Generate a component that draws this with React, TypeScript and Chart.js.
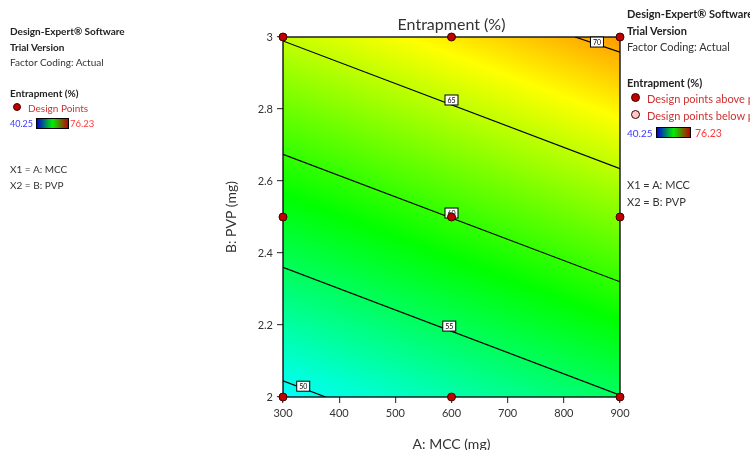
import React, { useEffect, useRef } from 'react';
import { Chart, registerables } from 'chart.js';

Chart.register(...registerables);

// ---- data ----
const mccTicks = [300, 400, 500, 600, 700, 800, 900];
const pvpTicks = [2, 2.2, 2.4, 2.6, 2.8, 3];
const designMCC = [300, 600, 900, 300, 600, 900, 300, 600, 900];
const designPVP = [2, 2, 2, 2.5, 2.5, 2.5, 3, 3, 3];
const cornerMCC = [300, 900];
const cornerPVP = [2, 3];
const entrapmentAtLowPVP = [49.3, 54.9];
const entrapmentAtHighPVP = [65.2, 70.8];
const colorScaleRange = [40.25, 76.23];
const contourLevels = [50, 55, 60, 65, 70];
const contourMCC = [[300, 376], [300, 900], [300, 900], [300, 900], [820, 900]];
const contourPVP = [[2.045, 2.0], [2.36, 2.005], [2.674, 2.32], [2.989, 2.634], [3.0, 2.958]];
const labelMCC = [336, 596, 600, 600, 859];
const labelPVP = [2.03, 2.197, 2.511, 2.825, 2.986];

const FONT = 'Lato, "Noto Sans", sans-serif';

const stops: [number, number, number][] = [
  [0, 0, 255],
  [0, 255, 255],
  [0, 255, 0],
  [255, 255, 0],
  [255, 0, 0],
];

function colorFor(e: number): [number, number, number] {
  let t = (e - colorScaleRange[0]) / (colorScaleRange[1] - colorScaleRange[0]);
  t = Math.max(0, Math.min(1, t));
  const s = t * (stops.length - 1);
  const i = Math.min(stops.length - 2, Math.floor(s));
  const f = s - i;
  const a = stops[i], b = stops[i + 1];
  return [a[0] + (b[0] - a[0]) * f, a[1] + (b[1] - a[1]) * f, a[2] + (b[2] - a[2]) * f];
}

const surfacePlugin = {
  id: 'surface',
  beforeDatasetsDraw(chart: any) {
    const { ctx, chartArea: a, scales } = chart;
    const x = scales.x, y = scales.y;
    const left = Math.round(a.left), top = Math.round(a.top);
    const w = Math.round(a.right) - left, h = Math.round(a.bottom) - top;
    const img = ctx.createImageData(w, h);
    for (let j = 0; j < h; j++) {
      const pv = y.getValueForPixel(top + j + 0.5);
      const v = (pv - cornerPVP[0]) / (cornerPVP[1] - cornerPVP[0]);
      for (let i = 0; i < w; i++) {
        const mv = x.getValueForPixel(left + i + 0.5);
        const u = (mv - cornerMCC[0]) / (cornerMCC[1] - cornerMCC[0]);
        const lo = entrapmentAtLowPVP[0] + (entrapmentAtLowPVP[1] - entrapmentAtLowPVP[0]) * u;
        const hi = entrapmentAtHighPVP[0] + (entrapmentAtHighPVP[1] - entrapmentAtHighPVP[0]) * u;
        const e = lo + (hi - lo) * v;
        const c = colorFor(e);
        const k = (j * w + i) * 4;
        img.data[k] = c[0];
        img.data[k + 1] = c[1];
        img.data[k + 2] = c[2];
        img.data[k + 3] = 255;
      }
    }
    ctx.putImageData(img, left, top);
    ctx.save();
    ctx.strokeStyle = '#000';
    ctx.lineWidth = 1.3;
    ctx.strokeRect(left, top, w, h);
    ctx.restore();
  },
  afterDatasetDraw(chart: any, args: any) {
    if (args.index !== 1) return;
    const { ctx, scales } = chart;
    ctx.save();
    ctx.font = `7px ${FONT}`;
    ctx.textAlign = 'center';
    ctx.textBaseline = 'middle';
    contourLevels.forEach((lv, i) => {
      const px = scales.x.getPixelForValue(labelMCC[i]);
      const py = scales.y.getPixelForValue(labelPVP[i]);
      ctx.fillStyle = '#fff';
      ctx.fillRect(px - 6.5, py - 5, 13, 10);
      ctx.strokeStyle = '#000';
      ctx.lineWidth = 1;
      ctx.strokeRect(px - 6.5, py - 5, 13, 10);
      ctx.fillStyle = '#000';
      ctx.fillText(String(lv), px, py + 0.5);
    });
    ctx.restore();
  },
};

const Txt = ({ x, y, size, bold, color, children }: any) => (
  <div
    style={{
      position: 'absolute',
      left: x,
      top: y - 7,
      height: 14,
      lineHeight: '14px',
      fontSize: size,
      fontWeight: bold ? 700 : 400,
      color: color || '#222',
      fontFamily: FONT,
      whiteSpace: 'nowrap',
    }}
  >
    {children}
  </div>
);

const Dot = ({ x, y, r, fill }: any) => (
  <div
    style={{
      position: 'absolute',
      left: x - r,
      top: y - r,
      width: 2 * r,
      height: 2 * r,
      borderRadius: '50%',
      background: fill,
      border: '1px solid #400',
      boxSizing: 'border-box',
    }}
  />
);

const Bar = ({ x, y, w, h }: any) => (
  <div
    style={{
      position: 'absolute',
      left: x,
      top: y,
      width: w,
      height: h,
      border: '1px solid #000',
      boxSizing: 'border-box',
      background: 'linear-gradient(to right, #0000e0, #00f000, #c00000)',
    }}
  />
);

export default function App() {
  const ref = useRef<HTMLCanvasElement>(null);

  useEffect(() => {
    if (!ref.current) return;
    const pointsDs = {
      label: 'Design Points',
      data: designMCC.map((m, i) => ({ x: m, y: designPVP[i] })),
      pointRadius: 4,
      pointBackgroundColor: '#c00000',
      pointBorderColor: '#400000',
      pointBorderWidth: 1,
      showLine: false,
      clip: false,
    };
    const contourDs = contourLevels.map((lv, i) => ({
      label: String(lv),
      data: contourMCC[i].map((m, k) => ({ x: m, y: contourPVP[i][k] })),
      showLine: true,
      borderColor: '#000',
      borderWidth: 1.2,
      pointRadius: 0,
      fill: false,
    }));
    const chart = new Chart(ref.current, {
      type: 'scatter',
      data: { datasets: [pointsDs, ...contourDs] as any },
      options: {
        animation: false,
        responsive: false,
        devicePixelRatio: 1,
        layout: { padding: { left: 222, right: 130, top: 0, bottom: 0 } },
        plugins: {
          legend: { display: false },
          tooltip: { enabled: false },
          title: {
            display: true,
            fullSize: false,
            text: 'Entrapment (%)',
            color: '#333',
            font: { family: FONT, size: 16, weight: 'normal' },
            padding: { top: 15, bottom: 2.8 },
          },
        },
        scales: {
          x: {
            type: 'linear',
            min: mccTicks[0],
            max: mccTicks[mccTicks.length - 1],
            afterBuildTicks: (s: any) => {
              s.ticks = mccTicks.map((v) => ({ value: v }));
            },
            afterFit: (s: any) => {
              s.height = 61;
            },
            border: { display: false },
            grid: { drawOnChartArea: false, drawTicks: true, tickLength: 6, color: '#444', lineWidth: 1.2 },
            ticks: {
              color: '#333',
              padding: 4,
              font: { family: FONT, size: 11 },
              maxRotation: 0,
              callback: (v: any) => String(v),
            },
            title: {
              display: true,
              text: 'A: MCC (mg)',
              color: '#333',
              font: { family: FONT, size: 14 },
              padding: { top: 0, bottom: 5 },
            },
          },
          y: {
            type: 'linear',
            min: pvpTicks[0],
            max: pvpTicks[pvpTicks.length - 1],
            afterBuildTicks: (s: any) => {
              s.ticks = pvpTicks.map((v) => ({ value: v }));
            },
            afterFit: (s: any) => {
              s.width = 61;
            },
            border: { display: false },
            grid: { drawOnChartArea: false, drawTicks: true, tickLength: 6, color: '#444', lineWidth: 1.2 },
            ticks: {
              color: '#333',
              padding: 4,
              font: { family: FONT, size: 11 },
              callback: (v: any) => String(Math.round(v * 10) / 10),
            },
            title: {
              display: true,
              text: 'B: PVP (mg)',
              color: '#333',
              font: { family: FONT, size: 14 },
              padding: { top: 1, bottom: 0 },
            },
          },
        },
      },
      plugins: [surfacePlugin],
    } as any);
    return () => chart.destroy();
  }, []);

  const L = 10;
  const R = 11;
  return (
    <div
      style={{
        position: 'fixed',
        left: 0,
        top: 0,
        width: 750,
        height: 450,
        overflow: 'hidden',
        background: '#fff',
      }}
    >
      <canvas ref={ref} width={750} height={458} style={{ display: 'block', width: 750, height: 458 }} />
      {/* left legend */}
      <Txt x={10} y={31} size={L} bold>Design-Expert® Software</Txt>
      <Txt x={10} y={47} size={L} bold>Trial Version</Txt>
      <Txt x={10} y={62} size={L} color="#333">Factor Coding: Actual</Txt>
      <Txt x={10} y={93} size={L} bold>Entrapment (%)</Txt>
      <Dot x={17} y={107} r={4} fill="#c00000" />
      <Txt x={28} y={108} size={L} color="#d03030">Design Points</Txt>
      <Txt x={10} y={124} size={9} color="#3a3aff">40.25</Txt>
      <Bar x={36} y={118} w={33} h={11} />
      <Txt x={70} y={124} size={9.5} color="#ff3a3a">76.23</Txt>
      <Txt x={10} y={169} size={L} color="#333">X1 = A: MCC</Txt>
      <Txt x={10} y={185} size={L} color="#333">X2 = B: PVP</Txt>
      {/* right legend */}
      <Txt x={627} y={14} size={R} bold>Design-Expert® Software</Txt>
      <Txt x={627} y={31} size={R} bold>Trial Version</Txt>
      <Txt x={627} y={47} size={R} color="#333">Factor Coding: Actual</Txt>
      <Txt x={627} y={82.5} size={R} bold>Entrapment (%)</Txt>
      <Dot x={635} y={97} r={4.5} fill="#c00000" />
      <Txt x={647} y={99} size={R} color="#d03030">Design points above predicted value</Txt>
      <Dot x={635} y={114} r={4.5} fill="#ffc8c8" />
      <Txt x={647} y={116} size={R} color="#d03030">Design points below predicted value</Txt>
      <Txt x={627} y={133} size={10} color="#3a3aff">40.25</Txt>
      <Bar x={656} y={127} w={35} h={11} />
      <Txt x={695} y={133} size={10.5} color="#ff3a3a">76.23</Txt>
      <Txt x={627} y={185} size={R} color="#333">X1 = A: MCC</Txt>
      <Txt x={627} y={202} size={R} color="#333">X2 = B: PVP</Txt>
    </div>
  );
}
